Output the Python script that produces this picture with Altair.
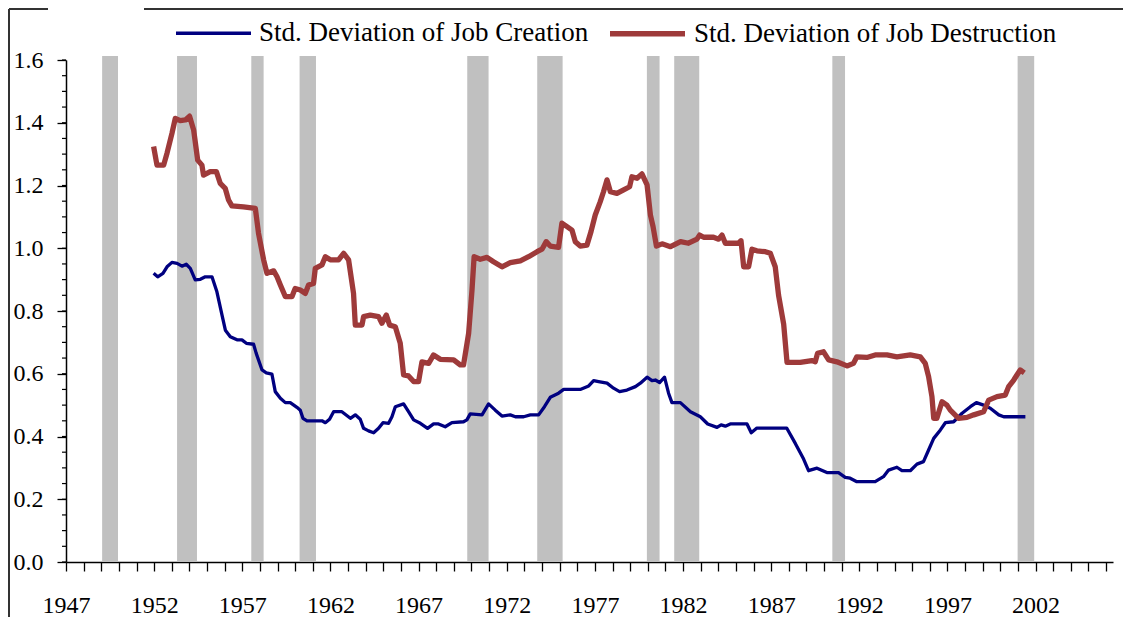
import altair as alt
import pandas as pd

# ---- data ----
series_names = ["Std. Deviation of Job Creation", "Std. Deviation of Job Destruction"]
series_colors = ["#000080", "#9E3A3A"]
series_widths = [3.3, 5.3]

creation_year = [1951.97, 1952.20, 1952.50, 1952.73, 1953.01, 1953.30, 1953.58, 1953.82, 1954.05, 1954.33,
                 1954.62, 1954.90, 1955.28, 1955.56, 1955.85, 1956.04, 1956.32, 1956.70, 1956.98, 1957.23,
                 1957.64, 1957.79, 1958.12, 1958.36, 1958.68, 1958.87, 1959.16, 1959.44, 1959.72, 1960.10,
                 1960.29, 1960.44, 1960.67, 1961.52, 1961.71, 1961.95, 1962.18, 1962.65, 1963.13, 1963.41,
                 1963.69, 1963.88, 1964.16, 1964.45, 1964.73, 1964.98, 1965.30, 1965.49, 1965.68, 1966.15,
                 1966.43, 1966.72, 1967.10, 1967.51, 1967.85, 1968.13, 1968.51, 1968.89, 1969.55, 1969.74,
                 1969.93, 1970.60, 1970.97, 1971.35, 1971.73, 1972.20, 1972.49, 1972.96, 1973.34, 1973.81,
                 1974.14, 1974.47, 1974.94, 1975.23, 1976.17, 1976.65, 1976.93, 1977.21, 1977.69, 1978.06,
                 1978.40, 1978.82, 1979.30, 1979.58, 1979.96, 1980.24, 1980.43, 1980.67, 1980.95, 1981.18,
                 1981.37, 1981.85, 1982.42, 1982.98, 1983.40, 1983.93, 1984.16, 1984.40, 1984.68, 1985.63,
                 1985.87, 1986.19, 1987.88, 1988.37, 1988.84, 1989.12, 1989.60, 1990.16, 1990.82, 1991.20,
                 1991.48, 1991.86, 1992.90, 1993.37, 1993.66, 1994.13, 1994.42, 1994.89, 1995.27, 1995.64,
                 1995.93, 1996.22, 1996.60, 1996.88, 1997.35, 1997.83, 1998.30, 1998.64, 1999.05, 1999.43,
                 1999.91, 2000.19, 2001.42]
creation_value = [0.920, 0.909, 0.920, 0.941, 0.955, 0.952, 0.943, 0.949, 0.936, 0.899,
                  0.901, 0.909, 0.909, 0.861, 0.787, 0.739, 0.718, 0.708, 0.708, 0.697,
                  0.694, 0.665, 0.612, 0.603, 0.599, 0.543, 0.522, 0.508, 0.508, 0.493,
                  0.484, 0.458, 0.450, 0.450, 0.444, 0.455, 0.479, 0.479, 0.458, 0.469,
                  0.455, 0.426, 0.418, 0.412, 0.426, 0.444, 0.442, 0.463, 0.495, 0.504,
                  0.479, 0.453, 0.442, 0.426, 0.440, 0.440, 0.431, 0.444, 0.447, 0.453,
                  0.472, 0.469, 0.504, 0.484, 0.465, 0.469, 0.463, 0.463, 0.469, 0.469,
                  0.495, 0.525, 0.538, 0.550, 0.550, 0.561, 0.578, 0.575, 0.570, 0.554,
                  0.543, 0.548, 0.559, 0.570, 0.589, 0.578, 0.580, 0.572, 0.589, 0.538,
                  0.508, 0.508, 0.479, 0.463, 0.440, 0.429, 0.437, 0.433, 0.440, 0.440,
                  0.412, 0.427, 0.427, 0.378, 0.328, 0.291, 0.299, 0.285, 0.285, 0.270,
                  0.267, 0.256, 0.256, 0.272, 0.293, 0.302, 0.291, 0.291, 0.312, 0.320,
                  0.357, 0.394, 0.421, 0.444, 0.447, 0.474, 0.495, 0.508, 0.500, 0.490,
                  0.469, 0.463, 0.463]

destruction_year = [1951.97, 1952.16, 1952.54, 1952.73, 1953.01, 1953.20, 1953.48, 1953.77, 1954.01, 1954.24,
                    1954.47, 1954.71, 1954.80, 1955.18, 1955.53, 1955.75, 1956.03, 1956.22, 1956.41, 1957.07,
                    1957.74, 1957.92, 1958.21, 1958.40, 1958.78, 1958.97, 1959.16, 1959.44, 1959.82, 1960.00,
                    1960.29, 1960.57, 1960.76, 1961.04, 1961.14, 1961.52, 1961.71, 1961.99, 1962.46, 1962.75,
                    1963.03, 1963.31, 1963.41, 1963.79, 1963.88, 1964.26, 1964.73, 1964.92, 1965.17, 1965.36,
                    1965.68, 1965.96, 1966.15, 1966.43, 1966.72, 1967.00, 1967.19, 1967.57, 1967.85, 1968.23,
                    1968.99, 1969.36, 1969.55, 1969.84, 1970.03, 1970.15, 1970.50, 1970.88, 1971.25, 1971.73,
                    1972.20, 1972.77, 1973.24, 1973.72, 1974.00, 1974.24, 1974.47, 1974.94, 1975.13, 1975.42,
                    1975.70, 1975.89, 1976.17, 1976.55, 1976.78, 1977.02, 1977.30, 1977.49, 1977.69, 1977.88,
                    1978.25, 1978.63, 1978.97, 1979.10, 1979.39, 1979.67, 1979.96, 1980.15, 1980.30, 1980.49,
                    1980.81, 1981.29, 1981.86, 1982.31, 1982.79, 1982.94, 1983.17, 1983.73, 1984.02, 1984.21,
                    1984.40, 1985.15, 1985.29, 1985.44, 1985.72, 1985.91, 1986.19, 1986.67, 1986.95, 1987.23,
                    1987.42, 1987.71, 1987.90, 1988.65, 1989.31, 1989.50, 1989.63, 1989.97, 1990.26, 1990.73,
                    1991.30, 1991.67, 1991.86, 1992.43, 1992.90, 1993.57, 1994.13, 1994.89, 1995.46, 1995.74,
                    1995.93, 1996.12, 1996.22, 1996.40, 1996.69, 1996.97, 1997.16, 1997.63, 1998.11, 1998.49,
                    1999.05, 1999.34, 1999.81, 2000.28, 2000.47, 2000.76, 2000.94, 2001.13, 2001.36]
destruction_value = [1.324, 1.265, 1.265, 1.303, 1.366, 1.414, 1.407, 1.409, 1.421, 1.377,
                     1.281, 1.265, 1.233, 1.244, 1.244, 1.207, 1.191, 1.154, 1.135, 1.132,
                     1.127, 1.048, 0.963, 0.920, 0.928, 0.909, 0.883, 0.846, 0.846, 0.872,
                     0.867, 0.856, 0.883, 0.888, 0.936, 0.947, 0.973, 0.963, 0.963, 0.984,
                     0.963, 0.856, 0.755, 0.755, 0.782, 0.787, 0.782, 0.761, 0.787, 0.755,
                     0.750, 0.697, 0.596, 0.593, 0.575, 0.575, 0.638, 0.633, 0.660, 0.646,
                     0.644, 0.628, 0.628, 0.729, 0.867, 0.973, 0.965, 0.971, 0.957, 0.941,
                     0.954, 0.960, 0.973, 0.989, 0.997, 1.021, 1.007, 1.003, 1.080, 1.069,
                     1.058, 1.021, 1.007, 1.010, 1.053, 1.106, 1.148, 1.180, 1.218, 1.180,
                     1.175, 1.186, 1.196, 1.228, 1.223, 1.237, 1.202, 1.106, 1.069, 1.007,
                     1.014, 1.005, 1.021, 1.016, 1.029, 1.042, 1.035, 1.035, 1.029, 1.042,
                     1.016, 1.016, 1.024, 0.941, 0.941, 0.997, 0.992, 0.989, 0.984, 0.941,
                     0.850, 0.758, 0.636, 0.636, 0.642, 0.638, 0.665, 0.670, 0.644, 0.638,
                     0.625, 0.633, 0.654, 0.652, 0.660, 0.660, 0.654, 0.660, 0.654, 0.633,
                     0.591, 0.527, 0.458, 0.458, 0.511, 0.500, 0.484, 0.458, 0.461, 0.469,
                     0.479, 0.516, 0.527, 0.532, 0.559, 0.580, 0.596, 0.612, 0.603]

recession_start = [1949.05, 1953.30, 1957.51, 1960.25, 1969.76, 1973.73, 1979.95, 1981.50, 1990.47, 2000.98]
recession_end = [1949.95, 1954.43, 1958.21, 1961.18, 1970.97, 1975.17, 1980.67, 1982.92, 1991.19, 2001.92]

year_ticks = list(range(1947, 2007))
y_major = [0.0, 0.2, 0.4, 0.6, 0.8, 1.0, 1.2, 1.4, 1.6]
y_minor = [round(0.05 * i, 2) for i in range(33)]

# ---- tables ----
lines_df = pd.concat([
    pd.DataFrame({"year": creation_year, "value": creation_value, "series": series_names[0]}),
    pd.DataFrame({"year": destruction_year, "value": destruction_value, "series": series_names[1]}),
], ignore_index=True)
rec_df = pd.DataFrame({"start": recession_start, "end": recession_end})
minor_df = pd.DataFrame({"v": y_minor})
one_df = pd.DataFrame({"k": [0]})

FONT = "Liberation Serif"
W, H = 1047, 502
x_scale = alt.Scale(domain=[1947, 2006.39], nice=False, zero=False)
y_scale = alt.Scale(domain=[0, 1.6], nice=False)

axis_style = dict(labelFont=FONT, labelFontSize=24, labelColor="black",
                  domainColor="black", domainWidth=1.5, tickColor="black", tickWidth=1.3,
                  title=None, grid=False, labelFlush=False)
x_axis = alt.Axis(values=year_ticks, format="d",
                  labelExpr="datum.value % 5 == 2 ? datum.label : ''",
                  tickSize=9, labelPadding=22, labelOverlap=False, **axis_style)
y_axis = alt.Axis(values=y_major, format=".1f", tickSize=9, labelPadding=14, **axis_style)

legend_style = dict(title=None, orient="none", direction="horizontal",
                    legendX=108, legendY=-67, symbolType="stroke",
                    symbolSize=5625, labelFont=FONT, labelFontSize=27,
                    labelColor="black", labelLimit=0, labelOffset=6, columnPadding=10)

bars = alt.Chart(rec_df).mark_rect(color="#C0C0C0").encode(
    x=alt.X("start:Q", scale=x_scale, axis=x_axis),
    x2="end:Q",
    y=alt.Y(datum=0, scale=y_scale, axis=y_axis),
    y2=alt.value(-4),
)

lines = alt.Chart(lines_df).mark_line(strokeJoin="round").encode(
    x=alt.X("year:Q", scale=x_scale, axis=x_axis),
    y=alt.Y("value:Q", scale=y_scale, axis=y_axis),
    color=alt.Color("series:N", scale=alt.Scale(domain=series_names, range=series_colors),
                    legend=alt.Legend(**legend_style)),
    strokeWidth=alt.StrokeWidth("series:N", scale=alt.Scale(domain=series_names, range=series_widths),
                                legend=alt.Legend(**legend_style)),
    order="year:Q",
)

minor = alt.Chart(minor_df).mark_rule(color="black", strokeWidth=1.2).encode(
    y=alt.Y("v:Q", scale=y_scale, axis=y_axis),
    x=alt.value(-4), x2=alt.value(0),
)

border_left = alt.Chart(one_df).mark_rule(color="#333333", strokeWidth=2).encode(
    x=alt.value(-57), y=alt.value(-51), y2=alt.value(560))
border_top1 = alt.Chart(one_df).mark_rule(color="#333333", strokeWidth=2).encode(
    x=alt.value(-57), x2=alt.value(-18), y=alt.value(-51))
border_top2 = alt.Chart(one_df).mark_rule(color="#333333", strokeWidth=2).encode(
    x=alt.value(78), x2=alt.value(1060), y=alt.value(-51))

chart = alt.layer(bars, minor, lines, border_left, border_top1, border_top2).properties(
    width=W, height=H,
    padding={"left": 58, "top": 52, "right": 10, "bottom": 55},
    autosize=alt.AutoSizeParams(type="none"),
).configure(background="white").configure_view(stroke=None)

chart.save("out.html", embed_options={"renderer": "svg", "actions": False})
